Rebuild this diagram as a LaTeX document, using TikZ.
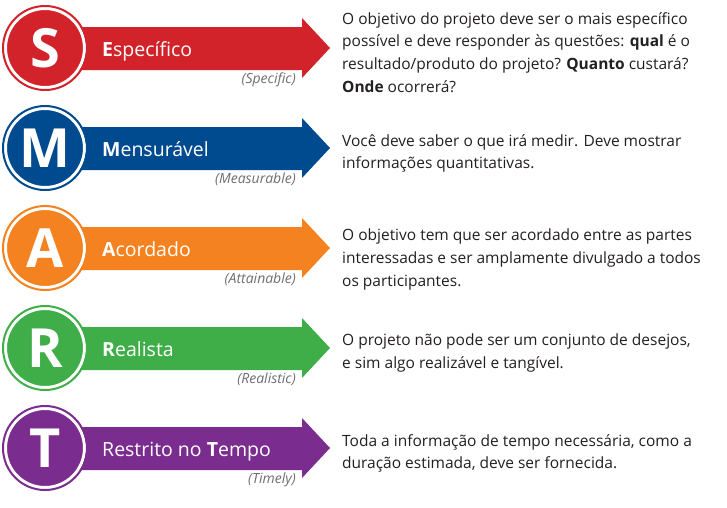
\documentclass[tikz,border=0pt]{standalone}
\usepackage{fontspec}
\setmainfont{Open Sans}

\definecolor{smartred}{HTML}{D2232A}
\definecolor{smartblue}{HTML}{004A8F}
\definecolor{smartorange}{HTML}{F58220}
\definecolor{smartgreen}{HTML}{3FAE49}
\definecolor{smartpurple}{HTML}{7B2C8F}
\definecolor{smartgray}{HTML}{6D6E71}
\definecolor{smarttext}{HTML}{231F20}

\tikzset{
  letter/.style = {circle, fill=#1, draw=white, line width=3pt,
    minimum size=79pt, inner sep=0pt, text=white,
    font=\fontsize{54}{54}\selectfont\bfseries},
  label/.style = {anchor=base west, inner sep=0pt, text=white,
    font=\fontsize{19.5}{22}\selectfont},
  english/.style = {anchor=base east, inner sep=0pt, text=smartgray,
    font=\fontsize{14}{16}\selectfont\itshape},
  desc/.style = {anchor=north west, inner sep=0pt, align=left,
    text=smarttext, font=\fontsize{15.5}{22.7}\selectfont}
}

\begin{document}
\begin{tikzpicture}[x=1pt, y=-1pt]
\useasboundingbox (0,0) rectangle (727,507);

\foreach \ltr/\col/\name/\eng [count=\i from 0] in {
    S/smartred/{\textbf{E}specífico}/Specific,
    M/smartblue/{\textbf{M}ensurável}/Measurable,
    A/smartorange/{\textbf{A}cordado}/Attainable,
    R/smartgreen/{\textbf{R}ealista}/Realistic,
    T/smartpurple/{Restrito no \textbf{T}empo}/Timely}
{
  \begin{scope}[shift={(0,48+100*\i)}]
    % arrow behind the circle
    \fill[\col] (60,-21) -- (302,-21) -- (302,-30) -- (330,0)
      -- (302,30) -- (302,22) -- (60,22) -- cycle;
    \node[letter=\col] (circ\ltr) at (45,0) {\ltr};
    \draw[\col, line width=2pt] (circ\ltr.center) circle (42);
    \node[label] (lab\ltr) at (102,8) {\name};
    \node[english] (eng\ltr) at (296,35) {(\eng)};
  \end{scope}
}

\node[desc] (descS) at (342,12) {O objetivo do projeto deve ser o mais específico\\
  possível e deve responder às questões: \textbf{qual} é o\\
  resultado/produto do projeto? \textbf{Quanto} custará?\\
  \textbf{Onde} ocorrerá?};
\node[desc] (descM) at (342,134) {Você deve saber o que irá medir. Deve mostrar\\
  informações quantitativas.};
\node[desc] (descA) at (342,229) {O objetivo tem que ser acordado entre as partes\\
  interessadas e ser amplamente divulgado a todos\\
  os participantes.};
\node[desc] (descR) at (342,334) {O projeto não pode ser um conjunto de desejos,\\
  e sim algo realizável e tangível.};
\node[desc] (descT) at (342,434) {Toda a informação de tempo necessária, como a\\
  duração estimada, deve ser fornecida.};
\end{tikzpicture}
\end{document}
